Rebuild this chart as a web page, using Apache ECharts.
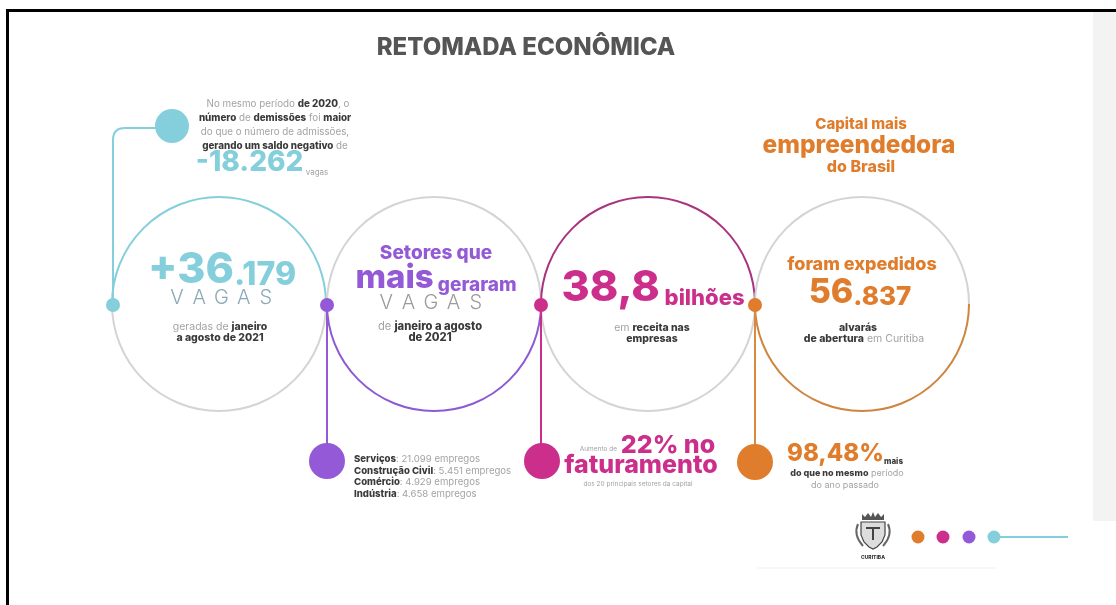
<!DOCTYPE html>
<html><head><meta charset="utf-8">
<script src="https://cdn.jsdelivr.net/npm/echarts@6/dist/echarts.min.js"></script>
<style>html,body{margin:0;padding:0;background:#fff}#c{width:1116px;height:605px}</style>
</head><body><div id="c"></div>
<script>
// ---- data ----
const title = 'RETOMADA ECONÔMICA';
const jobsGenerated = 36179;          // vagas geradas jan-ago 2021
const balance2020 = -18262;           // saldo negativo 2020
const revenueBillions = 38.8;         // receita nas empresas (bilhões)
const permits = 56837;                // alvarás de abertura
const revenueGrowthPct = 22;          // aumento no faturamento
const permitGrowthPct = 98.48;        // % a mais que ano passado
const sectorNames = ['Serviços', 'Construção Civil', 'Comércio', 'Indústria'];
const sectorJobs = [21099, 5451, 4929, 4658];
const brandColors = ['#84cfdb', '#9459d6', '#cc2f8b', '#e07d2c'];

// ---- helpers ----
const F = 'Inter, "Open Sans", sans-serif';
const GRAY = '#a3a3a3', DARK = '#3a3a3a', LINE_GRAY = '#d4d4d4';
function fmtInt(n) {
  const s = String(Math.abs(Math.round(n)));
  let out = '';
  for (let i = 0; i < s.length; i++) {
    if (i > 0 && (s.length - i) % 3 === 0) out += '.';
    out += s[i];
  }
  return (n < 0 ? '-' : '') + out;
}
function fmtDec(n, d) { return n.toFixed(d).replace('.', ','); }
function esc(s) { return s.replace(/[{}|]/g, ''); }

function T(x, y, text, size, color, weight, align) {
  return { type: 'text', x: x, y: y, z: 10, style: {
    text: text, fontFamily: F, fontSize: size, fontWeight: weight || 400, fill: color,
    align: align || 'center', verticalAlign: 'middle' } };
}
// parts: [[text, size, color, weight]]
function R(x, y, parts, align) {
  const rich = {}; let txt = '';
  parts.forEach((p, i) => {
    const k = 't' + i;
    rich[k] = { fontFamily: F, fontSize: p[1], fill: p[2], fontWeight: p[3] || 400, verticalAlign: 'bottom' };
    txt += '{' + k + '|' + esc(p[0]) + '}';
  });
  return { type: 'text', x: x, y: y, z: 10, style: {
    text: txt, rich: rich, align: align || 'center', verticalAlign: 'middle', fontFamily: F } };
}
function spaced(word, x0, x1, y, size, color) {
  const out = [], n = word.length;
  for (let i = 0; i < n; i++) {
    const x = x0 + (x1 - x0) * (i + 0.5) / n;
    out.push(T(x, y, word[i], size, color, 300));
  }
  return out;
}
function arc(cx, cy, r, a0, a1, color) {
  return { type: 'arc', z: 2, shape: { cx: cx, cy: cy, r: r, startAngle: a0, endAngle: a1, clockwise: true },
    style: { stroke: color, lineWidth: 2, fill: null } };
}
function dot(cx, cy, r, color) {
  return { type: 'circle', z: 5, shape: { cx: cx, cy: cy, r: r }, style: { fill: color } };
}
function line(x1, y1, x2, y2, color, w) {
  return { type: 'line', z: 3, shape: { x1: x1, y1: y1, x2: x2, y2: y2 }, style: { stroke: color, lineWidth: w || 2 } };
}
function poly(points, fill, stroke) {
  return { type: 'polygon', shape: { points: points }, style: { fill: fill, stroke: stroke || null, lineWidth: 1.2 } };
}

const els = [];
// frame & side strip
els.push({ type: 'rect', z: 1, shape: { x: 1093, y: 11, width: 23, height: 510 }, style: { fill: '#f3f3f3' } });
els.push({ type: 'rect', z: 20, shape: { x: 6, y: 9, width: 1110, height: 3 }, style: { fill: '#000' } });
els.push({ type: 'rect', z: 20, shape: { x: 6, y: 9, width: 3, height: 596 }, style: { fill: '#000' } });
els.push(line(757, 568, 997, 568, '#f0f0f0', 1));

// title
els.push(T(526, 48, title, 24, '#555', 800));

// circles
const CY = 304, RR = 107;
const CX = [219, 434, 648, 862];
const topColors = [brandColors[0], LINE_GRAY, '#a8347f', LINE_GRAY];
const botColors = [LINE_GRAY, '#8d5ad3', LINE_GRAY, '#cf8440'];
CX.forEach((cx, i) => {
  els.push(arc(cx, CY, RR, Math.PI, Math.PI * 2, topColors[i]));
  els.push(arc(cx, CY, RR, 0, Math.PI, botColors[i]));
});

// connectors
els.push(line(113, 305, 113, 140, brandColors[0]));
els.push({ type: 'bezierCurve', z: 3, shape: { x1: 113, y1: 140, cpx1: 113, cpy1: 128, x2: 125, y2: 128 },
  style: { stroke: brandColors[0], lineWidth: 2, fill: null } });
els.push(line(125, 128, 160, 128, brandColors[0]));
els.push(line(327, 305, 327, 450, brandColors[1]));
els.push(line(541, 305, 541, 450, brandColors[2]));
els.push(line(755, 305, 755, 450, '#d98a3e'));

// junction dots
els.push(dot(113, 305, 7, brandColors[0]));
els.push(dot(327, 305, 7, brandColors[1]));
els.push(dot(541, 305, 7, brandColors[2]));
els.push(dot(755, 305, 7, brandColors[3]));
// big dots
els.push(dot(172, 126, 17, brandColors[0]));
els.push(dot(327, 461, 18, brandColors[1]));
els.push(dot(542, 461, 18, brandColors[2]));
els.push(dot(755, 462, 18, brandColors[3]));

// top-left note
const NS = 9.8;
els.push(R(278, 104, [['No mesmo período ', NS, GRAY], ['de 2020', NS, DARK, 800], [', o', NS, GRAY]]));
els.push(R(275, 118, [['número', NS, DARK, 800], [' de ', NS, GRAY], ['demissões', NS, DARK, 800], [' foi ', NS, GRAY], ['maior', NS, DARK, 800]]));
els.push(R(275, 132, [['do que o número de admissões,', NS, GRAY]]));
els.push(R(275, 146, [['gerando um saldo negativo', NS, DARK, 800], [' de', NS, GRAY]]));
els.push(R(262, 163, [[fmtInt(balance2020), 28, brandColors[0], 800], [' vagas', 8, GRAY]]));

// circle 1
const jg = fmtInt(jobsGenerated).split('.');
els.push(R(222, 270, [['+' + jg[0], 43, brandColors[0], 800], ['.' + jg[1], 32, brandColors[0], 800]]));
spaced('VAGAS', 166, 277, 298, 20, '#8aa9b6').forEach(e => els.push(e));
els.push(R(220, 327, [['geradas de ', 10.5, GRAY], ['janeiro', 10.5, DARK, 800]]));
els.push(T(220, 338, 'a agosto de 2021', 10.5, DARK, 800));

// circle 2
els.push(T(436, 253, 'Setores que', 19, brandColors[1], 800));
els.push(R(436, 278, [['mais', 33, brandColors[1], 800], [' geraram', 19, brandColors[1], 800]]));
spaced('VAGAS', 375, 487, 303, 20, '#9b9b9b').forEach(e => els.push(e));
els.push(R(430, 327, [['de ', 11.2, GRAY], ['janeiro a agosto', 11.2, DARK, 800]]));
els.push(T(430, 338, 'de 2021', 11.2, DARK, 800));

// circle 3
els.push(R(653, 288, [[fmtDec(revenueBillions, 1), 43, brandColors[2], 800], [' bilhões', 22, brandColors[2], 800]]));
els.push(R(652, 328, [['em ', 10.5, GRAY], ['receita nas', 10.5, DARK, 800]]));
els.push(T(652, 339, 'empresas', 10.5, DARK, 800));

// circle 4
const OR = brandColors[3];
els.push(T(861, 124, 'Capital mais', 15, OR, 800));
els.push(T(859, 146, 'empreendedora', 24.5, OR, 800));
els.push(T(861, 167, 'do Brasil', 16, OR, 800));
els.push(T(862, 265, 'foram expedidos', 18, OR, 800));
const pm = fmtInt(permits).split('.');
els.push(R(860, 293, [[pm[0], 34, OR, 800], ['.' + pm[1], 26, OR, 800]]));
els.push(T(858, 328, 'alvarás', 10.5, DARK, 800));
els.push(R(864, 339, [['de abertura', 10.5, DARK, 800], [' em Curitiba', 10.5, GRAY]]));

// sectors list
sectorNames.forEach((name, i) => {
  els.push(R(354, 459 + i * 11.7, [[name, 9.6, DARK, 800], [': ' + fmtInt(sectorJobs[i]) + ' empregos', 9.6, GRAY]], 'left'));
});

// revenue growth
els.push(T(617, 449, 'Aumento de', 6.5, GRAY, 400, 'right'));
els.push(T(668, 445, revenueGrowthPct + '% no', 25, brandColors[2], 800));
els.push(T(641, 465, 'faturamento', 25, brandColors[2], 800));
els.push(T(638, 484, 'dos 20 principais setores da capital', 6.5, GRAY));

// permits growth
els.push(R(845, 454, [[fmtDec(permitGrowthPct, 2) + '%', 24, OR, 800], ['mais', 8, DARK, 800]]));
els.push(R(847, 473, [['do que no mesmo', 9, DARK, 800], [' período', 9, GRAY]]));
els.push(T(845, 485, 'do ano passado', 9, GRAY));

// footer: logo + dots
els.push({ type: 'group', x: 873, y: 530, z: 6, children: [
  poly([[-11, -16], [-11, -10], [11, -10], [11, -16], [8, -13], [5, -17], [2, -13], [0, -18], [-2, -13], [-5, -17], [-8, -13]], '#555'),
  poly([[-12, -8], [12, -8], [12, 5], [9, 12], [4, 17], [0, 19], [-4, 17], [-9, 12], [-12, 5]], '#ddd', '#444'),
  poly([[-7, -3], [7, -3], [7, -1], [1, -1], [1, 10], [-1, 10], [-1, -1], [-7, -1]], '#444'),
  { type: 'bezierCurve', shape: { x1: -15, y1: -6, cpx1: -20, cpy1: 5, x2: -10, y2: 16 }, style: { stroke: '#666', lineWidth: 2, fill: null } },
  { type: 'bezierCurve', shape: { x1: 15, y1: -6, cpx1: 20, cpy1: 5, x2: 10, y2: 16 }, style: { stroke: '#666', lineWidth: 2, fill: null } }
] });
els.push(T(873, 557, 'CURITIBA', 5, '#333', 800));
els.push(line(994, 537, 1068, 537, brandColors[0]));
els.push(dot(918, 537, 6.5, OR));
els.push(dot(943, 537, 6.5, brandColors[2]));
els.push(dot(969, 537, 6.5, brandColors[1]));
els.push(dot(994, 537, 6.5, brandColors[0]));

const chart = echarts.init(document.getElementById('c'), null, { renderer: 'canvas' });
chart.setOption({ animation: false, backgroundColor: '#fff', graphic: { elements: els } });
</script></body></html>
